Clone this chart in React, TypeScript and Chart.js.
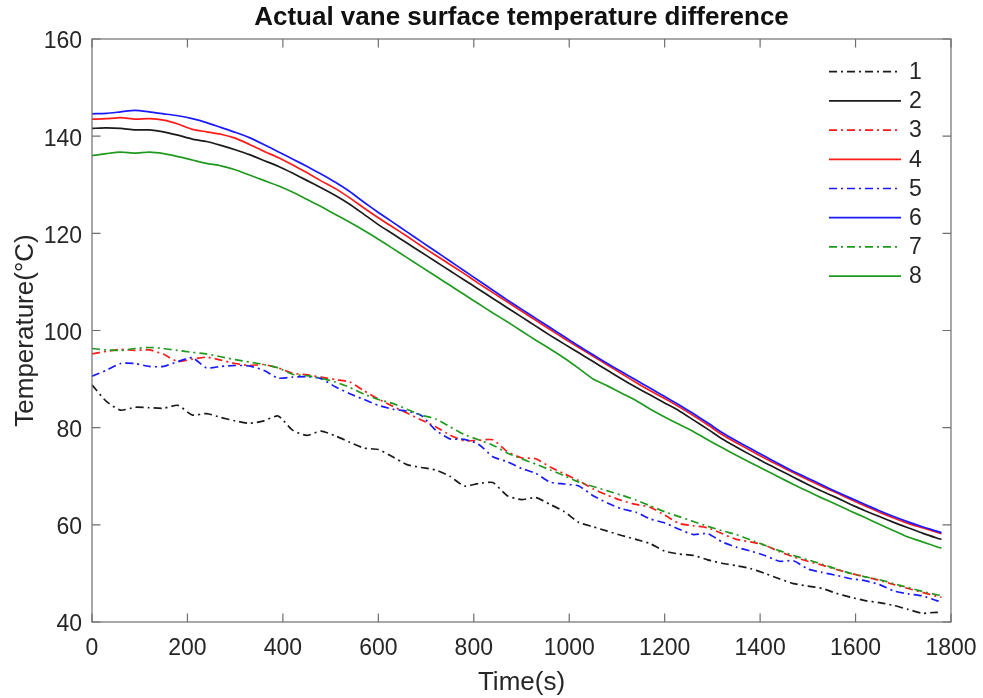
import React, { useEffect, useRef } from 'react';
import { Chart, registerables } from 'chart.js';

Chart.register(...registerables);

// ---- Data ----
const timeS = [
  0, 30, 60, 90, 120, 150, 180, 210, 240, 270,
  300, 330, 360, 390, 420, 450, 480, 510, 540, 570,
  600, 630, 660, 690, 720, 750, 780, 810, 840, 870,
  900, 930, 960, 990, 1020, 1050, 1080, 1110, 1140, 1170,
  1200, 1230, 1260, 1290, 1320, 1350, 1380, 1410, 1440, 1470,
  1500, 1530, 1560, 1590, 1620, 1650, 1680, 1710, 1740, 1770, 1780,
];

const series1 = [
  88.8, 85.4, 83.6, 84.2, 84.1, 84.0, 84.6, 82.6, 82.9, 82.1,
  81.4, 80.9, 81.4, 82.4, 79.5, 78.4, 79.3, 78.3, 77.0, 75.8,
  75.5, 74.0, 72.4, 71.8, 71.3, 70.0, 68.0, 68.5, 68.7, 66.0,
  65.2, 65.6, 64.2, 62.7, 60.5, 59.6, 58.7, 57.8, 57.0, 56.1,
  54.6, 54.0, 53.7, 52.8, 52.1, 51.6, 51.0, 50.0, 48.9, 47.9,
  47.4, 46.9, 45.9, 45.1, 44.4, 44.0, 43.4, 42.6, 41.8, 42.0, 41.6,
];
const series2 = [
  141.6, 141.7, 141.6, 141.3, 141.3, 140.9, 140.2, 139.4, 138.9, 138.1,
  137.2, 136.2, 135.0, 133.8, 132.4, 130.9, 129.4, 127.8, 126.0, 123.9,
  121.8, 119.9, 118.0, 116.1, 114.2, 112.3, 110.4, 108.5, 106.6, 104.7,
  102.8, 100.9, 99.0, 97.2, 95.4, 93.6, 91.8, 90.0, 88.3, 86.7,
  85.1, 83.5, 81.6, 79.7, 77.7, 76.0, 74.4, 72.8, 71.3, 69.8,
  68.3, 66.9, 65.6, 64.2, 62.9, 61.7, 60.5, 59.4, 58.3, 57.3, 57.0,
];
const series3 = [
  95.2, 95.7, 96.1, 95.9, 96.0, 95.1, 93.6, 94.1, 94.5, 93.9,
  93.2, 92.8, 93.0, 92.3, 91.2, 90.9, 90.4, 89.9, 89.4, 87.6,
  85.9, 84.4, 83.0, 81.6, 80.2, 78.5, 77.3, 77.4, 77.5, 75.1,
  73.8, 73.6, 71.9, 70.5, 69.1, 67.4, 66.1, 65.0, 64.2, 63.6,
  62.0, 60.3, 59.8, 59.4, 58.2, 57.0, 56.5, 55.8, 54.5, 53.4,
  52.5, 51.7, 50.8, 50.0, 49.3, 48.6, 47.7, 46.9, 46.1, 45.3, 45.1,
];
const series4 = [
  143.5, 143.6, 143.8, 143.5, 143.6, 143.3, 142.5, 141.4, 140.9, 140.4,
  139.6, 138.3, 136.9, 135.6, 134.1, 132.5, 130.8, 129.2, 127.3, 125.2,
  123.2, 121.3, 119.4, 117.4, 115.5, 113.6, 111.7, 109.7, 107.8, 105.9,
  104.0, 102.1, 100.2, 98.3, 96.5, 94.7, 92.9, 91.1, 89.3, 87.6,
  86.0, 84.3, 82.5, 80.6, 78.6, 76.9, 75.3, 73.7, 72.2, 70.7,
  69.3, 67.9, 66.6, 65.2, 63.9, 62.6, 61.4, 60.3, 59.4, 58.5, 58.2,
];
const series5 = [
  90.6, 91.8, 93.2, 93.2, 92.6, 92.6, 93.6, 94.4, 92.3, 92.6,
  92.8, 92.7, 91.8, 90.2, 90.4, 90.5, 90.1, 88.4, 87.0, 85.8,
  84.6, 83.8, 83.4, 82.5, 79.5, 77.7, 77.6, 76.6, 74.0, 73.0,
  71.6, 70.6, 68.8, 68.4, 68.0, 66.0, 64.5, 63.3, 62.6, 61.2,
  60.4, 59.1, 58.0, 58.2, 56.5, 55.4, 54.6, 53.7, 52.5, 52.6,
  50.9, 50.2, 49.6, 48.9, 48.5, 47.7, 46.4, 45.8, 45.4, 44.4, 44.2,
];
const series6 = [
  144.6, 144.7, 145.0, 145.3, 145.0, 144.6, 144.2, 143.6, 142.8, 141.8,
  140.8, 139.7, 138.3, 136.8, 135.3, 133.8, 132.2, 130.5, 128.6, 126.4,
  124.3, 122.3, 120.3, 118.3, 116.3, 114.3, 112.3, 110.3, 108.3, 106.3,
  104.4, 102.5, 100.6, 98.7, 96.8, 95.0, 93.2, 91.5, 89.8, 88.1,
  86.4, 84.7, 82.9, 81.0, 79.0, 77.3, 75.7, 74.1, 72.5, 71.0,
  69.6, 68.2, 66.8, 65.5, 64.2, 62.9, 61.7, 60.6, 59.6, 58.7, 58.4,
];
const series7 = [
  96.3, 96.0, 95.9, 96.3, 96.5, 96.3, 95.9, 95.5, 95.2, 94.6,
  94.0, 93.5, 93.0, 92.3, 91.0, 90.7, 90.2, 89.4, 88.3, 86.9,
  85.8, 85.0, 83.8, 82.6, 81.8, 80.2, 78.6, 77.5, 76.4, 74.8,
  73.6, 72.5, 71.3, 70.1, 68.8, 67.9, 67.0, 66.1, 65.1, 63.9,
  62.7, 61.7, 60.7, 59.7, 58.8, 58.0, 56.9, 55.8, 54.7, 53.7,
  52.8, 51.9, 50.9, 50.0, 49.3, 48.7, 47.9, 47.1, 46.3, 45.6, 45.4,
];
const series8 = [
  136.0, 136.4, 136.7, 136.5, 136.7, 136.4, 135.8, 135.1, 134.4, 133.9,
  133.1, 132.0, 130.9, 129.8, 128.5, 127.0, 125.5, 123.9, 122.3, 120.6,
  118.8, 116.9, 115.0, 113.1, 111.2, 109.3, 107.4, 105.5, 103.6, 101.8,
  99.9, 98.0, 96.2, 94.3, 92.2, 90.0, 88.6, 87.1, 85.6, 83.8,
  82.2, 80.7, 79.2, 77.5, 75.9, 74.3, 72.8, 71.3, 69.8, 68.3,
  66.9, 65.5, 64.2, 62.8, 61.5, 60.1, 58.8, 57.5, 56.5, 55.5, 55.2,
];

const seriesLabels = ['1', '2', '3', '4', '5', '6', '7', '8'];
const xTickValues = [0, 200, 400, 600, 800, 1000, 1200, 1400, 1600, 1800];
const yTickValues = [40, 60, 80, 100, 120, 140, 160];
const titleText = 'Actual vane surface temperature difference';
const xTitle = 'Time(s)';
const yTitle = 'Temperature(°C)';

// ---- Styles ----
const FONT = "'Liberation Sans', Arial, Helvetica, sans-serif";
const TEXT = '#262626';
const AXIS = '#6e6e6e';
const BLACK = '#1a1a1a';
const RED = '#ff1a1a';
const BLUE = '#1a1aff';
const GREEN = '#1f9a1f';
const DASHDOT = [8, 4, 2, 4];

const allSeries = [series1, series2, series3, series4, series5, series6, series7, series8];
const colors = [BLACK, BLACK, RED, RED, BLUE, BLUE, GREEN, GREEN];

const titlePlugin = {
  id: 'customTitle',
  afterDraw(chart: any) {
    const { ctx, chartArea: a } = chart;
    ctx.save();
    ctx.fillStyle = '#111';
    ctx.font = `bold 26px ${FONT}`;
    ctx.textAlign = 'center';
    ctx.textBaseline = 'middle';
    ctx.fillText(titleText, (a.left + a.right) / 2, 18);
    ctx.restore();
  },
};

const framePlugin = {
  id: 'frame',
  afterDatasetsDraw(chart: any) {
    const { ctx, chartArea: a, scales } = chart;
    const len = 8.5;
    ctx.save();
    ctx.strokeStyle = AXIS;
    ctx.lineWidth = 1.2;
    ctx.setLineDash([]);
    ctx.strokeRect(a.left, a.top, a.right - a.left, a.bottom - a.top);
    ctx.beginPath();
    xTickValues.forEach((v) => {
      const px = scales.x.getPixelForValue(v);
      ctx.moveTo(px, a.bottom);
      ctx.lineTo(px, a.bottom - len);
      ctx.moveTo(px, a.top);
      ctx.lineTo(px, a.top + len);
    });
    yTickValues.forEach((v) => {
      const py = scales.y.getPixelForValue(v);
      ctx.moveTo(a.left, py);
      ctx.lineTo(a.left + len, py);
      ctx.moveTo(a.right, py);
      ctx.lineTo(a.right - len, py);
    });
    ctx.stroke();
    ctx.restore();
  },
};

const legendPlugin = {
  id: 'insideLegend',
  afterDraw(chart: any) {
    const { ctx, chartArea: a } = chart;
    ctx.save();
    chart.data.datasets.forEach((ds: any, i: number) => {
      const y = a.top + 32.7 + i * 29.2;
      ctx.strokeStyle = ds.borderColor;
      ctx.lineWidth = ds.borderWidth;
      ctx.setLineDash(ds.borderDash || []);
      ctx.beginPath();
      ctx.moveTo(a.right - 122, y);
      ctx.lineTo(a.right - 50, y);
      ctx.stroke();
      ctx.setLineDash([]);
      ctx.fillStyle = TEXT;
      ctx.font = `23px ${FONT}`;
      ctx.textAlign = 'left';
      ctx.textBaseline = 'middle';
      ctx.fillText(ds.label, a.right - 42, y + 1);
    });
    ctx.restore();
  },
};

export default function App() {
  const ref = useRef<HTMLCanvasElement>(null);

  useEffect(() => {
    document.body.style.margin = '0';
    const datasets = allSeries.map((s, i) => ({
      label: seriesLabels[i],
      data: timeS.map((t, k) => ({ x: t, y: s[k] })),
      borderColor: colors[i],
      backgroundColor: colors[i],
      borderWidth: 1.7,
      borderDash: i % 2 === 0 ? DASHDOT : [],
      pointRadius: 0,
      tension: 0.2,
      fill: false,
      order: 8 - i,
    }));

    const chart = new Chart(ref.current as HTMLCanvasElement, {
      type: 'line',
      data: { datasets },
      options: {
        animation: false,
        responsive: false,
        layout: { padding: { top: 39, right: 32, left: 0, bottom: 0 } },
        plugins: {
          legend: { display: false },
          title: { display: false },
          tooltip: { enabled: false },
        },
        scales: {
          x: {
            type: 'linear',
            min: 0,
            max: 1800,
            grid: { display: false, drawTicks: false },
            border: { display: false },
            ticks: {
              stepSize: 200,
              padding: 13,
              color: TEXT,
              font: { family: FONT, size: 23 },
              maxRotation: 0,
              callback: (v: any) => String(v),
            },
            title: {
              display: true,
              text: xTitle,
              color: TEXT,
              font: { family: FONT, size: 26 },
              padding: { top: 0, bottom: 0 },
            },
            afterFit: (scale: any) => {
              scale.height = 76;
              scale.paddingLeft = 0;
              scale.paddingRight = 0;
            },
          },
          y: {
            type: 'linear',
            min: 40,
            max: 160,
            grid: { display: false, drawTicks: false },
            border: { display: false },
            ticks: {
              stepSize: 20,
              padding: 10,
              labelOffset: 3,
              color: TEXT,
              font: { family: FONT, size: 23 },
            },
            title: {
              display: true,
              text: yTitle,
              color: TEXT,
              font: { family: FONT, size: 26 },
              padding: { top: 10, bottom: 0 },
            },
            afterFit: (scale: any) => {
              scale.width = 92;
              scale.paddingTop = 0;
              scale.paddingBottom = 0;
            },
          },
        },
      },
      plugins: [framePlugin, legendPlugin, titlePlugin],
    } as any);

    return () => chart.destroy();
  }, []);

  return (
    <div style={{ width: 983, height: 698 }}>
      <canvas ref={ref} width={983} height={698} style={{ display: 'block' }} />
    </div>
  );
}
